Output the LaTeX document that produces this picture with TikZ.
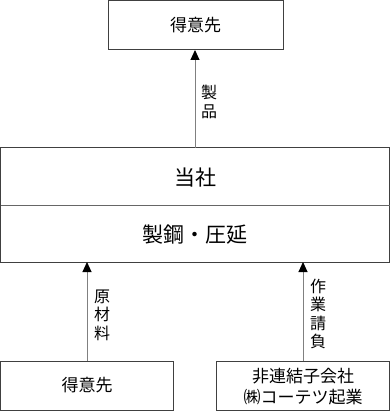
\documentclass[tikz,border=0pt]{standalone}
\usepackage{fontspec}
\setmainfont{Noto Sans CJK JP}
\usetikzlibrary{arrows.meta}
\tikzset{
  box/.style={draw=black!75, line width=1pt, inner sep=0pt},
  conn/.style={draw=black!50, line width=1pt, -{Triangle[length=10pt,width=9pt,fill=black,color=black]}},
  lbl/.style={font=\fontsize{16}{18.5}\selectfont, align=center, inner sep=0pt},
  btxt/.style={font=\fontsize{17}{21}\selectfont, align=center, inner sep=0pt},
  mtxt/.style={font=\fontsize{21}{24}\selectfont, inner sep=0pt}
}
\begin{document}
\begin{tikzpicture}[x=1pt,y=1pt]
\useasboundingbox (0,0) rectangle (390,-411);
% top box
\draw[box] (108,-1) rectangle (283,-50);
\node[btxt] (top) at (195.5,-25.5) {得意先};
\coordinate (topb) at (195,-50);
% main box
\draw[box] (0.5,-148) rectangle (389.5,-262);
\draw[draw=black!60, line width=1pt] (0.5,-206) -- (389.5,-206);
\node[mtxt] (tosha) at (195,-178) {当社};
\node[mtxt] (seiko) at (195,-235) {製鋼・圧延};
\coordinate (maint) at (195,-148);
\coordinate (mainl) at (87,-262);
\coordinate (mainr) at (303,-262);
% bottom boxes
\draw[box] (0.5,-361) rectangle (173,-410);
\node[btxt] (cust) at (87,-385.5) {得意先};
\coordinate (custt) at (87,-361);
\draw[box] (216,-361) rectangle (389.5,-410);
\node[btxt] (sub) at (303,-386.5) {非連結子会社\\㈱コーテツ起業};
\coordinate (subt) at (303,-361);
% connectors
\draw[conn] (maint) -- (topb);
\draw[conn] (custt) -- (mainl);
\draw[conn] (subt) -- (mainr);
% labels
\node[lbl] (l1) at (209,-102) {製\\品};
\node[lbl] (l2) at (102,-315) {原\\材\\料};
\node[lbl] (l3) at (318,-314) {作\\業\\請\\負};
\end{tikzpicture}
\end{document}
